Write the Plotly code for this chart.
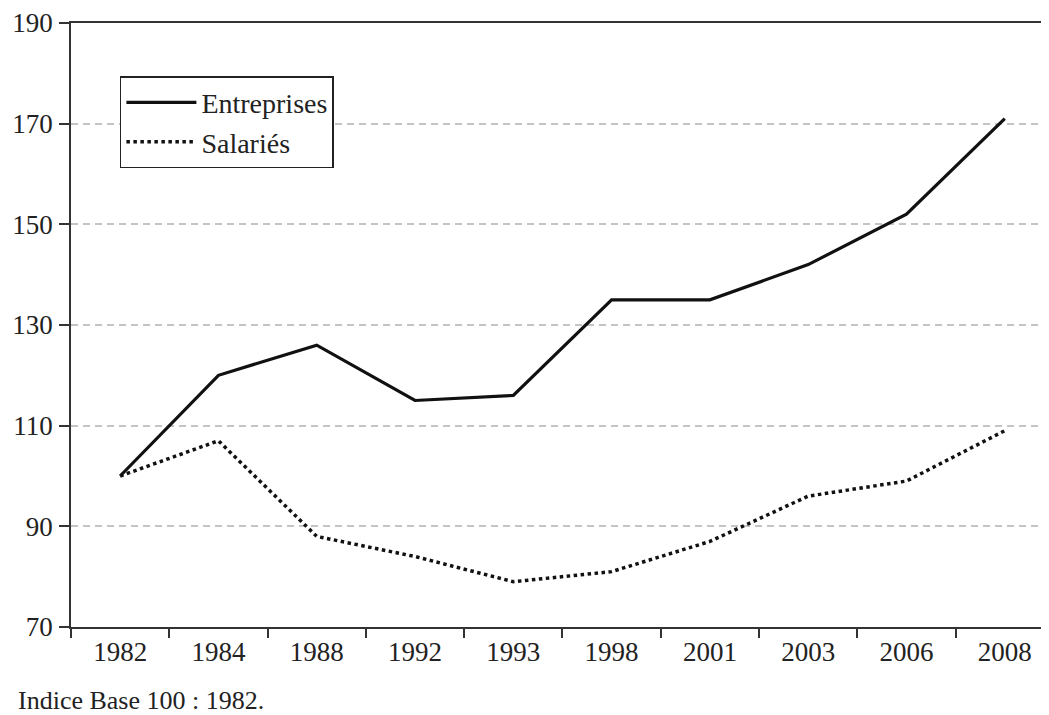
import plotly.graph_objects as go

years = ["1982", "1984", "1988", "1992", "1993", "1998", "2001", "2003", "2006", "2008"]
entreprises = [100, 120, 126, 115, 116, 135, 135, 142, 152, 171]
salaries = [100, 107, 88, 84, 79, 81, 87, 96, 99, 109]
y_ticks = [70, 90, 110, 130, 150, 170, 190]
caption = "Indice Base 100 : 1982."

FONT = "Liberation Serif"

fig = go.Figure()
fig.add_trace(go.Scatter(x=years, y=entreprises, mode="lines", name="Entreprises",
                         line=dict(color="#111111", width=3.2)))
fig.add_trace(go.Scatter(x=years, y=salaries, mode="lines", name="Salariés",
                         line=dict(color="#111111", width=3.5, dash="dot")))

fig.update_layout(
    width=1041, height=707,
    margin=dict(l=63, r=0, t=13, b=88),
    paper_bgcolor="white", plot_bgcolor="white",
    font=dict(family=FONT, size=27, color="#222222"),
    showlegend=True,
    legend=dict(x=0.05, y=0.912, xanchor="left", yanchor="top",
                bordercolor="#222222", borderwidth=1.5, bgcolor="white",
                font=dict(family=FONT, size=28, color="#222222"),
                tracegroupgap=0, itemwidth=70,
                entrywidth=140, entrywidthmode="pixels"),
    xaxis=dict(type="category", range=[-0.5, 9.45], showgrid=False,
               showline=True, linecolor="#333333", linewidth=1.5, mirror=True,
               ticks="outside", tickson="boundaries", ticklen=9, tickwidth=1.5,
               tickcolor="#333333", tickfont=dict(family=FONT, size=27, color="#222222"),
               zeroline=False),
    yaxis=dict(range=[70, 190], tickvals=y_ticks, showgrid=True,
               gridcolor="#c4c4c4", gridwidth=1.5, griddash="7px,5px",
               showline=True, linecolor="#333333", linewidth=1.5,
               ticks="outside", ticklen=10, tickwidth=1.5, tickcolor="#333333",
               ticklabelstandoff=1, ticklabeloverflow="allow",
               tickfont=dict(family=FONT, size=27, color="#222222"),
               zeroline=False),
)

fig.add_annotation(text=caption, xref="paper", yref="paper", x=0, y=0,
                   xanchor="left", yanchor="top", xshift=-55, yshift=-57,
                   showarrow=False, font=dict(family=FONT, size=26, color="#222222"))

fig.write_html("out.html")
